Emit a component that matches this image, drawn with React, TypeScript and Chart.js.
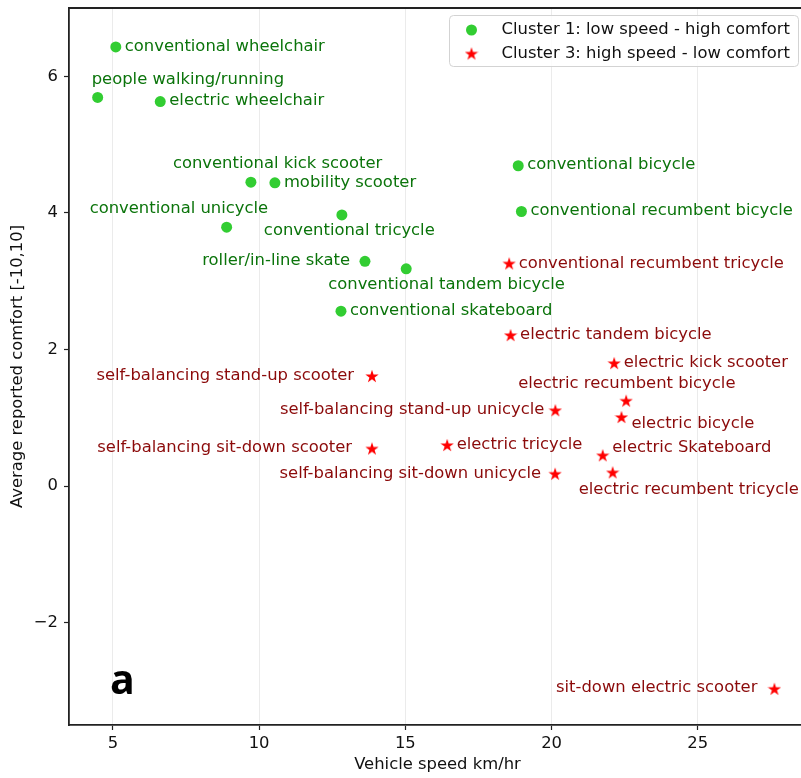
import React, { useEffect, useRef } from 'react';
import { Chart, registerables } from 'chart.js';

Chart.register(...registerables);

// ---------- data ----------
const xTicks = [5, 10, 15, 20, 25];
const yTicks = [-2, 0, 2, 4, 6];

const cluster1Label = 'Cluster 1: low speed - high comfort';
const cluster3Label = 'Cluster 3: high speed - low comfort';

const cluster1Names = [
  'conventional wheelchair',
  'people walking/running',
  'electric wheelchair',
  'conventional kick scooter',
  'mobility scooter',
  'conventional unicycle',
  'conventional tricycle',
  'roller/in-line skate',
  'conventional tandem bicycle',
  'conventional skateboard',
  'conventional bicycle',
  'conventional recumbent bicycle',
];
const cluster1Speed = [5.1, 4.48, 6.62, 9.72, 10.54, 8.89, 12.83, 13.62, 15.03, 12.8, 18.86, 18.97];
const cluster1Comfort = [6.43, 5.69, 5.63, 4.45, 4.44, 3.79, 3.97, 3.29, 3.18, 2.56, 4.69, 4.02];

const cluster3Names = [
  'conventional recumbent tricycle',
  'electric tandem bicycle',
  'electric kick scooter',
  'electric recumbent bicycle',
  'electric bicycle',
  'self-balancing stand-up unicycle',
  'electric tricycle',
  'electric Skateboard',
  'self-balancing sit-down unicycle',
  'electric recumbent tricycle',
  'self-balancing stand-up scooter',
  'self-balancing sit-down scooter',
  'sit-down electric scooter',
];
const cluster3Speed = [18.55, 18.6, 22.14, 22.55, 22.39, 20.13, 16.43, 21.75, 20.12, 22.09, 13.86, 13.86, 27.62];
const cluster3Comfort = [3.26, 2.21, 1.8, 1.25, 1.01, 1.11, 0.6, 0.45, 0.18, 0.2, 1.61, 0.55, -2.97];

// ---------- label placement (pixel offsets from the mark) ----------
type Place = [number, number, CanvasTextAlign];
const cluster1Placement: Place[] = [
  [9, -0.5, 'left'],
  [-6, -18, 'left'],
  [9, -0.5, 'left'],
  [-78, -18, 'left'],
  [9, -0.5, 'left'],
  [-137, -18, 'left'],
  [-78, 16, 'left'],
  [-15, -0.5, 'right'],
  [-78, 16, 'left'],
  [9, -0.5, 'left'],
  [9, -0.5, 'left'],
  [9, -0.5, 'left'],
];
const cluster3Placement: Place[] = [
  [9.5, 0, 'left'],
  [9.5, 0, 'left'],
  [9.5, 0, 'left'],
  [-108, -17, 'left'],
  [10, 7, 'left'],
  [-11, 0, 'right'],
  [9.5, 0, 'left'],
  [9.5, -8, 'left'],
  [-14, 0, 'right'],
  [-34, 17, 'left'],
  [-18, 0, 'right'],
  [-20, -1, 'right'],
  [-17, -1, 'right'],
];

// ---------- styles ----------
const FONT = '"DejaVu Sans", sans-serif';
const FS = 16.4;
const GREEN = '#32cd32';
const RED = '#ff0000';
const GREEN_TEXT = '#0b740b';
const RED_TEXT = '#8b0a0a';
const INK = '#111111';
const SPINE = '#222222';

function makeStar(size: number, color: string): HTMLCanvasElement {
  const c = document.createElement('canvas');
  c.width = size;
  c.height = size;
  const g = c.getContext('2d')!;
  const cx = size / 2;
  const cy = size / 2 + size * 0.05;
  const R = size / 2;
  const r = R * 0.381966;
  g.beginPath();
  for (let i = 0; i < 10; i++) {
    const rad = i % 2 === 0 ? R : r;
    const a = -Math.PI / 2 + (i * Math.PI) / 5;
    const x = cx + rad * Math.cos(a);
    const y = cy + rad * Math.sin(a);
    if (i === 0) g.moveTo(x, y);
    else g.lineTo(x, y);
  }
  g.closePath();
  g.fillStyle = color;
  g.fill();
  return c;
}

export default function App() {
  const ref = useRef<HTMLCanvasElement | null>(null);

  useEffect(() => {
    document.body.style.margin = '0';
    const star = makeStar(14, RED);

    const groups = [
      { names: cluster1Names, place: cluster1Placement, color: GREEN_TEXT },
      { names: cluster3Names, place: cluster3Placement, color: RED_TEXT },
    ];

    const overlay = {
      id: 'overlay',
      afterDatasetsDraw(chart: any) {
        const ctx: CanvasRenderingContext2D = chart.ctx;
        const { left, right, top } = chart.chartArea;
        ctx.save();
        // top spine
        ctx.strokeStyle = SPINE;
        ctx.lineWidth = 1.8;
        ctx.beginPath();
        ctx.moveTo(left, top);
        ctx.lineTo(right, top);
        ctx.stroke();

        // point labels
        ctx.font = `${FS}px ${FONT}`;
        ctx.textBaseline = 'middle';
        groups.forEach((g, di) => {
          const meta = chart.getDatasetMeta(di);
          meta.data.forEach((el: any, i: number) => {
            const [dx, dy, align] = g.place[i];
            ctx.fillStyle = g.color;
            ctx.textAlign = align;
            ctx.fillText(g.names[i], el.x + dx, el.y + dy);
          });
        });

        // panel letter
        const xs = chart.scales.x;
        const ys = chart.scales.y;
        ctx.fillStyle = '#000';
        ctx.font = `bold 41px "Open Sans", sans-serif`;
        ctx.textAlign = 'left';
        ctx.textBaseline = 'alphabetic';
        ctx.fillText('a', xs.getPixelForValue(4.9), ys.getPixelForValue(-3.05));

        // legend
        const bw = 349;
        const bh = 51;
        const bx = right - 7.5 - bw;
        const by = top + 7.5;
        ctx.beginPath();
        ctx.roundRect(bx, by, bw, bh, 4);
        ctx.fillStyle = 'rgba(255,255,255,0.85)';
        ctx.fill();
        ctx.strokeStyle = '#d3d3d3';
        ctx.lineWidth = 1;
        ctx.stroke();

        const mx = bx + 22;
        const row1 = by + 14.5;
        const row2 = by + 38;
        ctx.beginPath();
        ctx.arc(mx, row1, 5.5, 0, Math.PI * 2);
        ctx.fillStyle = GREEN;
        ctx.fill();
        ctx.drawImage(star, mx - 7, row2 - 7);

        ctx.fillStyle = INK;
        ctx.font = `${FS}px ${FONT}`;
        ctx.textAlign = 'left';
        ctx.textBaseline = 'middle';
        ctx.fillText(cluster1Label, bx + 52, row1);
        ctx.fillText(cluster3Label, bx + 52, row2);
        ctx.restore();
      },
    };

    const zeroPad = (s: any) => {
      s.paddingTop = 0;
      s.paddingBottom = 0;
      s.paddingLeft = 0;
      s.paddingRight = 0;
    };

    const chart = new Chart(ref.current!, {
      type: 'scatter',
      data: {
        datasets: [
          {
            label: cluster1Label,
            data: cluster1Speed.map((x, i) => ({ x, y: cluster1Comfort[i] })),
            pointStyle: 'circle',
            pointRadius: 5.5,
            backgroundColor: GREEN,
            borderColor: GREEN,
            borderWidth: 0,
          },
          {
            label: cluster3Label,
            data: cluster3Speed.map((x, i) => ({ x, y: cluster3Comfort[i] })),
            pointStyle: star as any,
            pointRadius: 7,
            backgroundColor: RED,
            borderColor: RED,
          },
        ],
      },
      options: {
        responsive: false,
        animation: false,
        events: [],
        layout: { padding: { top: 7, left: 0, right: 0, bottom: 0 } },
        plugins: {
          legend: { display: false },
          tooltip: { enabled: false },
        },
        scales: {
          x: {
            type: 'linear',
            min: 3.5,
            max: 28.7,
            afterBuildTicks: (s: any) => {
              s.ticks = xTicks.map((v) => ({ value: v }));
            },
            afterFit: (s: any) => {
              s.height = 53;
              zeroPad(s);
            },
            grid: {
              color: '#ebebeb',
              lineWidth: 1,
              drawOnChartArea: true,
              drawTicks: true,
              tickLength: 5,
              tickColor: SPINE,
              tickWidth: 1.2,
            },
            border: { display: true, color: SPINE, width: 1.8 },
            ticks: {
              color: INK,
              font: { family: FONT, size: FS },
              padding: 4,
              maxRotation: 0,
            },
            title: {
              display: true,
              text: 'Vehicle speed km/hr',
              color: INK,
              font: { family: FONT, size: FS },
              padding: { top: 0, bottom: 3 },
            },
          },
          y: {
            type: 'linear',
            min: -3.5,
            max: 7.0,
            afterBuildTicks: (s: any) => {
              s.ticks = yTicks.map((v) => ({ value: v }));
            },
            afterFit: (s: any) => {
              s.width = 69;
              zeroPad(s);
            },
            grid: {
              drawOnChartArea: false,
              drawTicks: true,
              tickLength: 5,
              tickColor: SPINE,
              tickWidth: 1.2,
            },
            border: { display: true, color: SPINE, width: 1.8 },
            ticks: {
              color: INK,
              font: { family: FONT, size: FS },
              padding: 6,
              callback: (v: any) => (Number(v) < 0 ? '\u2212' + Math.abs(Number(v)) : String(v)),
            },
            title: {
              display: true,
              text: 'Average reported comfort [-10,10]',
              color: INK,
              font: { family: FONT, size: FS },
              padding: { top: 8, bottom: 0 },
            },
          },
        },
      },
      plugins: [overlay],
    });

    return () => {
      chart.destroy();
    };
  }, []);

  return (
    <div style={{ width: 801, height: 778, overflow: 'hidden', background: '#fff' }}>
      <canvas ref={ref} width={814} height={778} style={{ display: 'block' }} />
    </div>
  );
}
